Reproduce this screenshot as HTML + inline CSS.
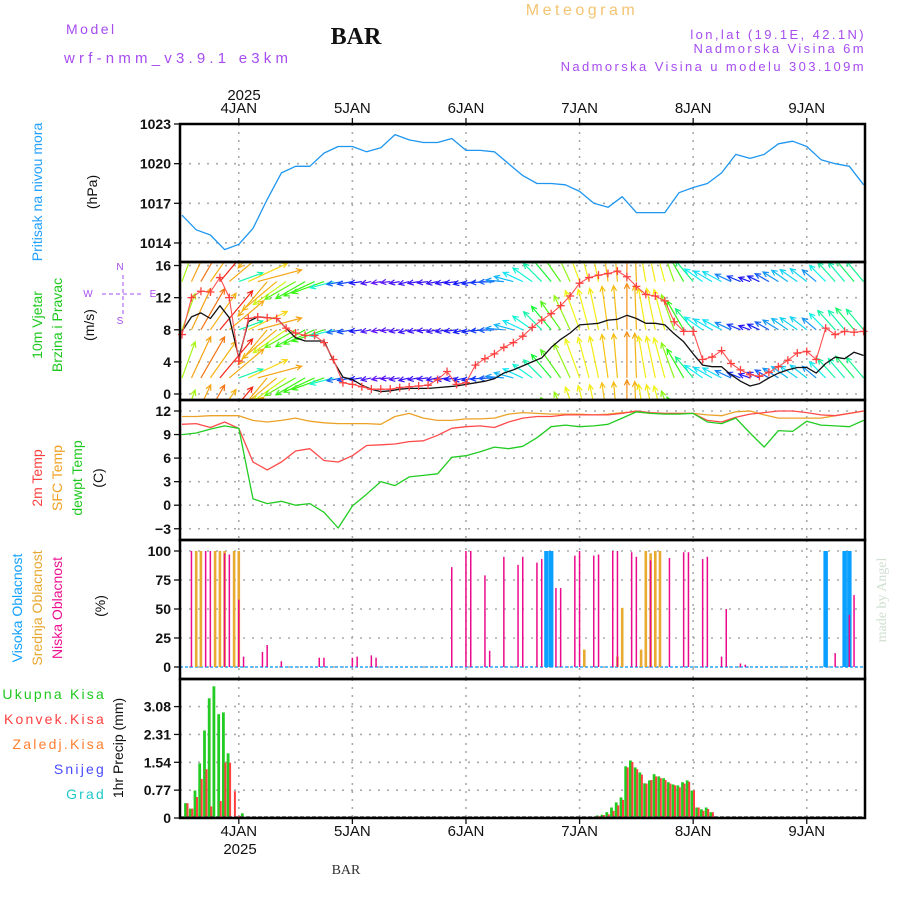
<!DOCTYPE html>
<html><head><meta charset="utf-8"><style>
html,body{margin:0;padding:0;background:#fff;}
svg{display:block;font-family:"Liberation Sans",sans-serif;}
</style></head><body>
<svg id="chart" width="900" height="900" viewBox="0 0 900 900" xmlns="http://www.w3.org/2000/svg">
<defs><clipPath id="clipWind"><rect x="181" y="263" width="683" height="136"/></clipPath></defs>
<g>
<text x="582" y="15" font-size="16" fill="#f3c472" text-anchor="middle" letter-spacing="3.5">Meteogram</text>
<text x="66" y="34" font-size="14" fill="#a64cf0" letter-spacing="2.5">Model</text>
<text x="64" y="63" font-size="15" fill="#a64cf0" letter-spacing="4.2">wrf-nmm_v3.9.1 e3km</text>
<text x="356" y="44" font-size="24" font-weight="bold" fill="#111" font-family="Liberation Serif, serif" text-anchor="middle">BAR</text>
<text x="866" y="39" font-size="13" fill="#a64cf0" text-anchor="end" letter-spacing="2.4">lon,lat (19.1E, 42.1N)</text>
<text x="866" y="53" font-size="13" fill="#a64cf0" text-anchor="end" letter-spacing="2.4">Nadmorska Visina 6m</text>
<text x="866" y="71" font-size="13" fill="#a64cf0" text-anchor="end" letter-spacing="2.4">Nadmorska Visina u modelu 303.109m</text>
<text x="244" y="100" font-size="15" fill="#111" text-anchor="middle">2025</text>
<text x="240" y="854" font-size="15" fill="#111" text-anchor="middle">2025</text>
<text x="346" y="874" font-size="14" fill="#333" font-family="Liberation Serif, serif" text-anchor="middle">BAR</text>
<text transform="translate(886,600) rotate(-90)" font-size="14" fill="#cfe0d0" font-family="Liberation Serif, serif" text-anchor="middle">made by Angel</text>
</g>
<g font-size="14">
<text transform="translate(42,192) rotate(-90)" fill="#22a0ff" text-anchor="middle">Pritisak na nivou mora</text>
<text transform="translate(97,192) rotate(-90)" fill="#111" text-anchor="middle">(hPa)</text>
<text transform="translate(42,325) rotate(-90)" fill="#1ec81e" text-anchor="middle">10m Vjetar</text>
<text transform="translate(62,325) rotate(-90)" fill="#1ec81e" text-anchor="middle">Brzina i Pravac</text>
<text transform="translate(94,325) rotate(-90)" fill="#111" text-anchor="middle">(m/s)</text>
<g fill="#a64cf0" stroke="#a64cf0" font-size="10">
<text x="120" y="270" stroke="none" text-anchor="middle">N</text>
<text x="120" y="324" stroke="none" text-anchor="middle">S</text>
<text x="88" y="297" stroke="none" text-anchor="middle">W</text>
<text x="153" y="297" stroke="none" text-anchor="middle">E</text>
<line x1="123" y1="275" x2="123" y2="314" stroke-dasharray="4,3"/>
<line x1="102" y1="294" x2="143" y2="294" stroke-dasharray="4,3"/>
</g>
<text transform="translate(42,478) rotate(-90)" fill="#ff4040" text-anchor="middle">2m Temp</text>
<text transform="translate(62,478) rotate(-90)" fill="#f0a020" text-anchor="middle">SFC Temp</text>
<text transform="translate(82,478) rotate(-90)" fill="#1ec81e" text-anchor="middle">dewpt Temp</text>
<text transform="translate(103,478) rotate(-90)" fill="#111" text-anchor="middle">(C)</text>
<text transform="translate(22,608) rotate(-90)" fill="#12a0ff" text-anchor="middle">Visoka Oblacnost</text>
<text transform="translate(42,608) rotate(-90)" fill="#e8a830" text-anchor="middle">Srednja Oblacnost</text>
<text transform="translate(62,608) rotate(-90)" fill="#ee1090" text-anchor="middle">Niska Oblacnost</text>
<text transform="translate(105,606) rotate(-90)" fill="#111" text-anchor="middle">(%)</text>
<text x="106" y="699" fill="#1ec81e" text-anchor="end" letter-spacing="2.2">Ukupna Kisa</text>
<text x="106" y="724" fill="#ff4040" text-anchor="end" letter-spacing="2.2">Konvek.Kisa</text>
<text x="106" y="749" fill="#ff8030" text-anchor="end" letter-spacing="2.2">Zaledj.Kisa</text>
<text x="106" y="774" fill="#4a4aff" text-anchor="end" letter-spacing="2.2">Snijeg</text>
<text x="106" y="799" fill="#20c8c8" text-anchor="end" letter-spacing="2.2">Grad</text>
<text transform="translate(123,748) rotate(-90)" fill="#111" text-anchor="middle">1hr Precip (mm)</text>
</g>
<g id="plot"></g>
</svg>
<script>
// ---------- data ----------
const dayLabels = ["4JAN","5JAN","6JAN","7JAN","8JAN","9JAN"];
const dayHours = [12,36,60,84,108,132];
// pressure, every 3h from 3JAN 12UTC
const pressure = [1016.1,1015.0,1014.6,1013.5,1013.9,1015.1,1017.3,1019.3,1019.8,1019.8,1020.8,1021.3,1021.3,1020.9,1021.2,1022.2,1021.8,1021.6,1021.6,1021.9,1021.0,1021.0,1020.9,1020.0,1019.1,1018.5,1018.5,1018.4,1017.9,1017.0,1016.7,1017.5,1016.3,1016.3,1016.3,1017.8,1018.2,1018.5,1019.3,1020.7,1020.4,1020.7,1021.5,1021.7,1021.3,1020.3,1020.0,1019.8,1018.4];
const pressureTicks = [1014,1017,1020,1023];
// temperature, every 3h
const temp2m = [10.3,10.4,9.9,10.6,9.8,5.5,4.5,5.5,6.9,7.2,5.7,5.5,6.3,7.6,7.7,7.8,8.1,8.2,8.9,9.8,10.0,10.1,9.9,10.6,11.1,11.3,11.3,11.5,11.5,11.5,11.5,11.7,12.0,11.8,11.7,11.7,11.7,10.8,10.6,11.2,11.6,11.8,12.0,12.0,11.8,11.5,11.4,11.7,12.0];
const tempSfc = [11.3,11.3,11.4,11.4,11.4,10.8,10.6,10.8,11.1,10.7,10.5,10.4,10.4,10.4,10.3,11.3,11.7,11.1,10.8,10.8,11.0,11.0,11.1,11.6,11.8,11.7,11.6,11.6,11.6,11.5,11.6,11.8,11.9,11.7,11.7,11.7,11.7,11.5,11.4,11.9,12.0,11.5,11.1,11.1,11.1,11.1,11.4,11.7,12.0];
const tempDew = [9.0,9.2,9.7,10.1,9.8,0.8,0.2,0.5,0.0,0.2,-0.9,-2.9,-0.1,1.4,3.0,2.5,3.6,3.8,4.0,6.1,6.3,6.8,7.4,7.2,7.5,8.6,10.0,10.2,10.0,10.1,10.3,11.1,11.9,11.7,11.6,11.6,11.7,10.6,10.4,11.1,9.2,7.4,9.5,9.4,10.7,10.2,10.1,10.0,10.8];
const tempTicks = [-3,0,3,6,9,12];
// wind, every 2h
const windSpeed = [7.8,9.6,10.1,9.4,11.0,9.5,4.5,9.0,9.6,9.5,9.4,8.2,7.0,6.6,6.6,6.6,4.1,2.1,1.8,1.1,0.6,0.3,0.4,0.6,0.7,0.7,0.7,0.8,0.9,1.0,1.2,1.4,1.6,1.9,2.6,3.0,3.5,4.0,4.5,5.8,6.8,7.6,8.6,8.7,8.8,9.2,9.3,9.8,9.4,8.8,8.8,8.6,7.5,6.5,5.0,3.6,3.4,3.4,2.4,1.6,1.0,1.3,2.0,2.6,3.0,3.3,3.3,2.6,3.8,4.6,4.4,5.2,4.8];
const windGust = [7.4,12.0,12.8,12.7,14.5,12.0,4.1,9.4,9.6,9.5,9.4,8.2,7.6,7.3,7.3,6.4,4.3,1.4,1.2,0.9,0.6,0.6,0.6,0.8,0.9,1.0,1.1,1.8,2.8,1.2,1.4,3.6,4.4,5.0,5.8,6.4,7.2,8.3,9.2,10.0,11.0,12.2,13.8,14.5,14.8,15.0,15.3,14.6,13.4,12.4,12.2,11.6,9.0,7.8,7.8,4.3,4.6,5.4,3.8,3.0,2.4,2.2,2.7,3.4,4.2,5.1,5.3,4.3,8.2,7.4,7.8,7.7,7.8];
const windDir = [200,205,210,215,220,230,250,245,255,40,50,55,60,60,65,70,75,80,80,82,78,80,84,80,76,80,83,79,80,82,78,80,85,88,95,105,115,125,135,140,145,155,160,165,168,172,175,180,178,170,168,165,160,150,140,125,120,118,115,112,110,115,120,122,125,125,128,130,135,138,140,140,140];
const windTicks = [0,4,8,12,16];
const windRowBases = [-4,2,8,14,20];
// clouds, hourly (hour index, percent)
const lowCloudHours = [2,5,6,9,10,12,13,17,18,21,29,30,36,37,40,41,57,60,61,64,65,68,71,72,75,76,79,80,83,84,87,88,91,92,95,96,99,103,106,107,110,111,114,115,118,119,138,141,142];
const lowCloudValues = [100,100,100,98,97,58,9,13,19,5,8,8,8,9,10,8,86,100,100,79,14,95,88,95,90,93,68,68,96,100,96,97,100,100,99,95,92,94,99,99,93,95,9,50,3,2,12,45,62];
const midCloudHours = [3,4,7,8,9,11,12,85,92,93,97,98,99,100,101];
const midCloudValues = [100,100,100,100,100,100,100,15,9,51,15,100,98,100,100];
const highCloudHours = [77,78,136,140,141];
const highCloudValues = [100,100,100,100,100];
const cloudTicks = [0,25,50,75,100];
// precipitation, hourly (mm)
const precipHours = [1,2,3,4,5,6,7,8,9,10,11,12,13,88,89,90,91,92,93,94,95,96,97,98,99,100,101,102,103,104,105,106,107,108,109,110,111,112];
const precipTotal = [0.41,0.26,0.76,1.51,2.42,3.31,3.64,2.87,2.92,1.79,0.0,0.0,0.13,0.07,0.09,0.16,0.29,0.43,0.57,1.43,1.59,1.40,1.26,0.96,1.04,1.21,1.15,1.10,0.99,0.93,0.90,0.99,1.04,0.76,0.29,0.24,0.29,0.16];
const precipConv = [0.41,0.26,0.58,1.08,1.35,0.32,0.0,0.47,1.53,1.53,0.74,0.06,0.0,0.05,0.08,0.10,0.20,0.35,0.50,1.40,1.55,1.35,1.20,0.95,1.05,1.15,1.10,1.05,0.95,0.90,0.85,0.95,1.00,0.76,0.29,0.20,0.25,0.16];
const precipTicks = [0,0.77,1.54,2.31,3.08];

// ---------- scales ----------
const X0 = 180, X1 = 865;
function xh(h){ return 182 + 4.733*h; }
const P = {top:124,bot:262}, W = {top:262,bot:400}, T = {top:400,bot:540}, C = {top:540,bot:679}, R = {top:679,bot:818};
function yP(v){ return 124 + (1023 - v)*13.22; }
function yW(v){ return 394 - v*8.03; }
function yT(v){ return 411 + (12 - v)*7.85; }
function yC(v){ return 667 - v*1.16; }
function yR(v){ return 818 - v*36.17; }

const NS = "http://www.w3.org/2000/svg";
const plot = document.getElementById("plot");
function el(tag, attrs, parent){
  const e = document.createElementNS(NS, tag);
  for (const k in attrs) e.setAttribute(k, attrs[k]);
  (parent||plot).appendChild(e);
  return e;
}
function group(name){
  const g = el("g", {});
  
  
  return g;
}

// ---------- grid ----------
const grid = group("grid");
[P,W,T,C,R].forEach(p=>{
  dayHours.forEach(h=>{
    const l = el("line",{x1:xh(h),x2:xh(h),y1:p.top,y2:p.bot,stroke:"#aaa","stroke-width":1.6,"stroke-dasharray":"2,6"},grid);
    
    
  });
});
function hgrid(ticks, yf, panel, name, fmt){
  const g = group(name);
  ticks.forEach(t=>{
    const y = yf(t);
    if (y > panel.top+3 && y < panel.bot-3){
      const l = el("line",{x1:X0,x2:X1,y1:y,y2:y,stroke:"#aaa","stroke-width":1.6,"stroke-dasharray":"2,7"},g);
      
      
    }
    const tk = el("line",{x1:X0-6,x2:X0,y1:y,y2:y,stroke:"#111","stroke-width":1.3},g);
    
    
    const tx = el("text",{x:X0-9,y:y+5,"font-size":14,"font-weight":"bold",fill:"#111","text-anchor":"end"},g);
    tx.textContent = fmt ? fmt(t) : String(t);
    
    
  });
}
hgrid(pressureTicks, yP, P, "pressure-y-axis");
hgrid(windTicks, yW, W, "wind-y-axis");
hgrid(tempTicks, yT, T, "temp-y-axis", t=> t<0 ? "\u2212"+Math.abs(t) : String(t));
hgrid(cloudTicks, yC, C, "cloud-y-axis");
hgrid(precipTicks, yR, R, "precip-y-axis");

// x labels
const xl = group("x-axis-labels");
dayLabels.forEach((d,i)=>{
  const x = xh(dayHours[i]);
  const t1 = el("text",{x:x,y:113,"font-size":15,fill:"#111","text-anchor":"middle"},xl);
  t1.textContent = d;
  
  
  const t2 = el("text",{x:x,y:836,"font-size":15,fill:"#111","text-anchor":"middle"},xl);
  t2.textContent = d;
  
  
  const k1 = el("line",{x1:x,x2:x,y1:118,y2:124,stroke:"#111","stroke-width":1.3},xl);
  
  
  const k2 = el("line",{x1:x,x2:x,y1:818,y2:824,stroke:"#111","stroke-width":1.3},xl);
  
  
});

function line(values, step, yf, color, name, w){
  const pts = values.map((v,i)=> xh(i*step).toFixed(1)+","+yf(v).toFixed(1)).join(" ");
  const l = el("polyline",{points:pts,fill:"none",stroke:color,"stroke-width":w||1.3,"stroke-linejoin":"round"});
  
  
  return l;
}

// ---------- pressure ----------
line(pressure, 3, yP, "#1e96f0", "pressure-line");

// ---------- wind ----------
const wg = group("wind-arrows");
wg.setAttribute("clip-path","url(#clipWind)");
function speedColor(v){
  let hue = 268 - 24*v;
  if (hue < 0) hue += 360;
  if (hue < 300 && hue > 270) hue = 335;
  return "hsl("+hue.toFixed(0)+",92%,52%)";
}
windDir.forEach((d,i)=>{
  const v = windSpeed[i];
  const to = (d + 180) * Math.PI/180;
  const L = 8 + 3.9*v;
  const dx = Math.sin(to)*L, dy = -Math.cos(to)*L;
  const col = speedColor(v);
  const x = xh(i*2);
  windRowBases.forEach(b=>{
    const y = yW(b);
    const tipx = x+dx, tipy = y+dy;
    const a = Math.atan2(dy,dx);
    const h1x = tipx - 6*Math.cos(a-0.45), h1y = tipy - 6*Math.sin(a-0.45);
    const h2x = tipx - 6*Math.cos(a+0.45), h2y = tipy - 6*Math.sin(a+0.45);
    const p = el("path",{d:`M${x.toFixed(1)},${y.toFixed(1)}L${tipx.toFixed(1)},${tipy.toFixed(1)}M${h1x.toFixed(1)},${h1y.toFixed(1)}L${tipx.toFixed(1)},${tipy.toFixed(1)}L${h2x.toFixed(1)},${h2y.toFixed(1)}`,stroke:col,"stroke-width":1.2,fill:"none"},wg);
    
    
  });
});
line(windSpeed, 2, yW, "#111", "wind-speed-line", 1.3);
line(windGust, 2, yW, "#ff5050", "wind-gust-line", 1.1);
const gg = group("wind-gust-markers");
windGust.forEach((v,i)=>{
  const x = xh(i*2), y = yW(v);
  const m = el("path",{d:`M${x-4},${y}H${x+4}M${x},${y-4}V${y+4}`,stroke:"#ff4040","stroke-width":1.3},gg);
  
  
});

// ---------- temperature ----------
line(tempSfc, 3, yT, "#eba228", "sfc-temp-line");
line(temp2m, 3, yT, "#ff4a4a", "temp-2m-line");
line(tempDew, 3, yT, "#22cc22", "dewpt-line");

// ---------- clouds ----------
const cg = group("cloud-bars");
const base = el("line",{x1:X0,x2:X1,y1:yC(0),y2:yC(0),stroke:"#2aa8ff","stroke-width":1.5,"stroke-dasharray":"3,2"},cg);


function cloudBars(hours, vals, color, w, name){
  hours.forEach((h,i)=>{
    const x = xh(h), y = yC(vals[i]);
    const r = el("rect",{x:(x-w/2).toFixed(1),y:y.toFixed(1),width:w,height:(yC(0)-y).toFixed(1),fill:color},cg);
    
    
  });
}
cloudBars(highCloudHours, highCloudValues, "#0aa0ff", 4.5, "high-cloud-bar");
cloudBars(midCloudHours, midCloudValues, "#e8aa30", 2.6, "mid-cloud-bar");
cloudBars(lowCloudHours, lowCloudValues, "#ec0a8c", 1.5, "low-cloud-bar");

// ---------- precipitation ----------
const pg = group("precip-bars");
precipHours.forEach((h,i)=>{
  const x = xh(h);
  if (precipTotal[i] > 0){
    const y = yR(precipTotal[i]);
    const r = el("rect",{x:(x-2.6).toFixed(1),y:y.toFixed(1),width:2.8,height:(818-y).toFixed(1),fill:"#22cc22"},pg);
    
    
  }
  if (precipConv[i] > 0){
    const y = yR(precipConv[i]);
    const r = el("rect",{x:(x-0.2).toFixed(1),y:y.toFixed(1),width:2,height:(818-y).toFixed(1),fill:"#ff4040"},pg);
    
    
  }
});
const pb = el("line",{x1:X0,x2:X1,y1:817,y2:817,stroke:"#555","stroke-width":1.5,"stroke-dasharray":"4,2"},pg);



// ---------- frames ----------
const fg = group("panel-frames");
[P,W,T,C,R].forEach((p,i)=>{
  const r = el("rect",{x:X0,y:p.top,width:X1-X0,height:p.bot-p.top,fill:"none",stroke:"#000","stroke-width":2.5},fg);
  
  
});
</script>
</body></html>
